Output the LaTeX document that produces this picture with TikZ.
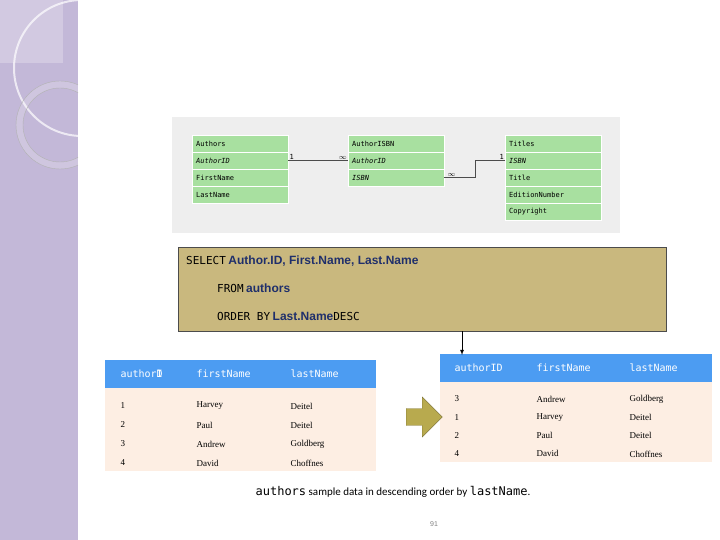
\documentclass[tikz,border=0pt]{standalone}
\usepackage{fontspec}
\setmainfont{Liberation Serif}
\setsansfont{Liberation Sans}
\setmonofont{DejaVu Sans Mono}
\newfontfamily\calibri{Carlito}
\usetikzlibrary{positioning,shapes.arrows}
\definecolor{strip}{HTML}{C3B8D8}
\definecolor{ergreen}{HTML}{A8E0A0}
\definecolor{ergray}{HTML}{EEEEEE}
\definecolor{sqltan}{HTML}{C9B87E}
\definecolor{hdrblue}{HTML}{4C9CF2}
\definecolor{peach}{HTML}{FDEEE3}
\definecolor{olive}{HTML}{B8AA4E}
\definecolor{navy}{HTML}{1F2F6B}
\tikzset{
  ercell/.style={draw=white, fill=ergreen, minimum width=96pt, minimum height=17pt,
    inner sep=0pt, anchor=north west, text width=88pt,
    font=\ttfamily\fontsize{7}{8}\selectfont},
  colhdr/.style={anchor=west, text=white, font=\ttfamily\fontsize{10}{12}\selectfont},
  cellt/.style={anchor=west, font=\rmfamily\fontsize{9}{11}\selectfont},
  sqlkw/.style={font=\ttfamily\fontsize{11}{13}\selectfont},
  sqlid/.style={text=navy, font=\sffamily\bfseries\fontsize{12}{14}\selectfont},
  card/.style={font=\ttfamily\fontsize{7}{8}\selectfont, inner sep=1pt}
}
\begin{document}
\begin{tikzpicture}[x=1pt,y=-1pt]
 \useasboundingbox (0,0) rectangle (720,540);
 % left decoration strip
 \fill[strip] (0,0) rectangle (78,540);
 \begin{scope}
  \clip (0,0) rectangle (78,540);
  \fill[white,opacity=0.25] (0,0) rectangle (63,63);
  \draw[white,opacity=0.7,line width=2pt] (82,68) circle (68);
  \fill[white,opacity=0.2,even odd rule] (60,125) circle (44) (60,125) circle (37);
  \draw[black!30] (60,125) circle (44) (60,125) circle (37);
 \end{scope}
 % ER diagram
 \fill[ergray] (172,117) rectangle (620,233);
 \foreach \t/\x/\rows in {auth/192/{Authors,\textit{AuthorID},FirstName,LastName},
                          aisbn/348/{AuthorISBN,\textit{AuthorID},\textit{ISBN}},
                          titl/505/{Titles,\textit{ISBN},Title,EditionNumber,Copyright}} {
  \foreach \r [count=\i from 0] in \rows
   \node[ercell] (\t\i) at (\x,135+17*\i) {\r};
 }
 \draw[black!70] (auth1.east) -- (aisbn1.west);
 \draw[black!70] (aisbn2.east) -- ++(31,0) |- (titl1.west);
 \node[card, anchor=south west] (c1) at (auth1.east) {1};
 \node[card, anchor=south east] (c2) at (aisbn1.west) {$\infty$};
 \node[card, anchor=south west] (c3) at ([xshift=2pt]aisbn2.east) {$\infty$};
 \node[card, anchor=south east] (c4) at (titl1.west) {1};
 % SQL box
 \node[draw=black!70, fill=sqltan, minimum width=488pt, minimum height=84pt,
   anchor=north west, inner sep=0pt] (sql) at (178,247) {};
 \node[anchor=west, inner sep=0pt] (q1) at (186,261)
   {\tikz[baseline]\node[sqlkw,inner sep=0pt,anchor=base]{SELECT};\ \tikz[baseline]\node[sqlid,inner sep=0pt,anchor=base]{Author.ID, First.Name, Last.Name};};
 \node[anchor=west, inner sep=0pt] (q2) at (217,288)
   {\tikz[baseline]\node[sqlkw,inner sep=0pt,anchor=base]{FROM};\ \tikz[baseline]\node[sqlid,inner sep=0pt,anchor=base]{authors};};
 \node[anchor=west, inner sep=0pt] (q3) at (217,316)
   {\tikz[baseline]\node[sqlkw,inner sep=0pt,anchor=base]{ORDER BY};\ \tikz[baseline]\node[sqlid,inner sep=0pt,anchor=base]{Last.Name};\tikz[baseline]\node[sqlkw,inner sep=0pt,anchor=base]{DESC};};
 % result tables
 \fill[peach] (105,360) rectangle (376,471);
 \fill[hdrblue] (105,360) rectangle (376,388);
 \fill[peach] (440,354) rectangle (712,462);
 \fill[hdrblue] (440,354) rectangle (712,382);
 \coordinate (sqlout) at (462,331);
 \coordinate (resin) at (462,355);
 \draw[-latex, thick] (sqlout) -- (resin);
 \node[colhdr] (la) at (117,374) {author\rlap{I}D};
 \node[colhdr] (lb) at (193,374) {firstName};
 \node[colhdr] (lc) at (287,374) {lastName};
 \node[colhdr] (ra) at (451,368) {authorID};
 \node[colhdr] (rb) at (533,368) {firstName};
 \node[colhdr] (rc) at (626,368) {lastName};
 \foreach \a/\b/\c [count=\i from 0] in {1/Harvey/Deitel,2/Paul/Deitel,3/Andrew/Goldberg,4/David/Choffnes} {
  \node[cellt] (l\i a) at (117,406+19*\i) {\a};
  \node[cellt] (l\i b) at (193,406+19*\i) {\b};
  \node[cellt] (l\i c) at (287,406+19*\i) {\c};
 }
 \foreach \a/\b/\c [count=\i from 0] in {3/Andrew/Goldberg,1/Harvey/Deitel,2/Paul/Deitel,4/David/Choffnes} {
  \node[cellt] (r\i a) at (451,399+18.3*\i) {\a};
  \node[cellt] (r\i b) at (533,399+18.3*\i) {\b};
  \node[cellt] (r\i c) at (626,399+18.3*\i) {\c};
 }
 % big arrow
 \node[single arrow, draw=olive!70!black, fill=olive, minimum height=36pt,
   minimum width=40pt, single arrow head extend=3pt, inner sep=2pt] (bigarr) at (420,417) {};
 % caption
 \node (cap) at (393,492) {{\ttfamily\fontsize{12}{14}\selectfont authors}
   {\calibri\fontsize{11}{13}\selectfont sample data in descending order by}
   {\ttfamily\fontsize{12}{14}\selectfont lastName}{\calibri\fontsize{11}{13}\selectfont .}};
 \node[text=black!50, font=\sffamily\fontsize{7}{8}\selectfont] (pg) at (434,524) {91};
\end{tikzpicture}
\end{document}
